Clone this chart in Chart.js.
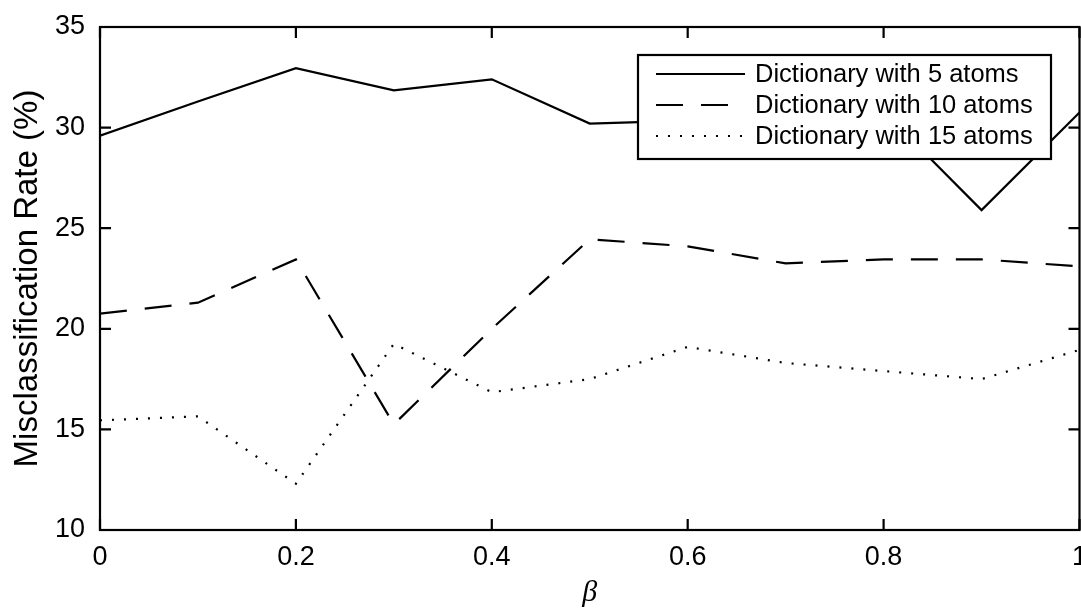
<!DOCTYPE html>
<html>
<head>
<meta charset="utf-8">
<script src="https://cdn.jsdelivr.net/npm/chart.js@4.4.1/dist/chart.umd.min.js"></script>
<style>
  html, body { margin: 0; padding: 0; background: #fff; }
  #wrap { width: 1081px; height: 609px; }
</style>
</head>
<body>
<div id="wrap"><canvas id="myChart" width="1081" height="609"></canvas></div>
<script>
// beta values on the x axis
var betas = [0, 0.1, 0.2, 0.3, 0.4, 0.5, 0.6, 0.7, 0.8, 0.9, 1.0];

// misclassification rate (%) per dictionary size
var atoms5  = [29.6, 31.3, 32.95, 31.85, 32.4, 30.2, 30.35, 30.5, 30.8, 25.9, 30.75];
var atoms10 = [20.75, 21.3, 23.45, 15.25, 20.0, 24.45, 24.1, 23.25, 23.45, 23.45, 23.1];
var atoms15 = [15.45, 15.65, 12.3, 19.25, 16.85, 17.5, 19.1, 18.3, 17.9, 17.5, 18.95];

var seriesNames = ['Dictionary with 5 atoms', 'Dictionary with 10 atoms', 'Dictionary with 15 atoms'];
var xTicks = [0, 0.2, 0.4, 0.6, 0.8, 1];
var yTicks = [10, 15, 20, 25, 30, 35];

var FONT = 'Liberation Sans, Arial, Helvetica, sans-serif';

function pairs(ys) {
    return betas.map(function (b, i) { return {x: b, y: ys[i]}; });
}

// box around the plot, ticks pointing inward on all four sides
var frame = {
    id: 'frame',
    afterDatasetsDraw: function (chart) {
        var ctx = chart.ctx, a = chart.chartArea;
        var xs = chart.scales.x, ys = chart.scales.y;
        var len = 11;
        ctx.save();
        ctx.strokeStyle = '#000';
        ctx.lineWidth = 2.2;
        ctx.strokeRect(a.left, a.top, a.right - a.left, a.bottom - a.top);
        ctx.beginPath();
        xTicks.forEach(function (v) {
            var px = xs.getPixelForValue(v);
            ctx.moveTo(px, a.bottom); ctx.lineTo(px, a.bottom - len);
            ctx.moveTo(px, a.top); ctx.lineTo(px, a.top + len);
        });
        yTicks.forEach(function (v) {
            var py = ys.getPixelForValue(v);
            ctx.moveTo(a.left, py); ctx.lineTo(a.left + len, py);
            ctx.moveTo(a.right, py); ctx.lineTo(a.right - len, py);
        });
        ctx.stroke();
        ctx.restore();
    }
};

// legend box in the upper right, with line samples
var boxLegend = {
    id: 'boxLegend',
    afterDraw: function (chart) {
        var ctx = chart.ctx;
        var x0 = 638, y0 = 55, w = 413, h = 104;
        ctx.save();
        ctx.fillStyle = '#fff';
        ctx.fillRect(x0, y0, w, h);
        ctx.strokeStyle = '#000';
        ctx.lineWidth = 2.2;
        ctx.strokeRect(x0, y0, w, h);
        ctx.font = '25.5px ' + FONT;
        ctx.textBaseline = 'middle';
        ctx.fillStyle = '#000';
        chart.data.datasets.forEach(function (ds, i) {
            var y = 74 + i * 31;
            ctx.beginPath();
            ctx.setLineDash(ds.borderDash || []);
            ctx.lineWidth = ds.borderWidth;
            ctx.moveTo(656, y);
            ctx.lineTo(745, y);
            ctx.stroke();
            ctx.setLineDash([]);
            ctx.fillText(ds.label, 755, y + 1);
        });
        ctx.restore();
    }
};

// italic beta under the x axis
var betaLabel = {
    id: 'betaLabel',
    afterDraw: function (chart) {
        var ctx = chart.ctx, xs = chart.scales.x;
        ctx.save();
        ctx.font = 'italic 30px "Liberation Serif", "DejaVu Serif", serif';
        ctx.textAlign = 'center';
        ctx.textBaseline = 'middle';
        ctx.fillStyle = '#000';
        ctx.fillText('\u03B2', (xs.left + xs.right) / 2, 593);
        ctx.restore();
    }
};

var ctx = document.getElementById('myChart').getContext('2d');
var chart = new Chart(ctx, {
    type: 'line',
    data: {
        datasets: [{
            label: seriesNames[0],
            data: pairs(atoms5),
            borderColor: '#000',
            borderWidth: 2.2,
            pointRadius: 0,
            fill: false
        }, {
            label: seriesNames[1],
            data: pairs(atoms10),
            borderColor: '#000',
            borderWidth: 2.2,
            borderDash: [27, 18],
            pointRadius: 0,
            fill: false
        }, {
            label: seriesNames[2],
            data: pairs(atoms15),
            borderColor: '#000',
            borderWidth: 2.2,
            borderDash: [2, 10],
            pointRadius: 0,
            fill: false
        }]
    },
    options: {
        responsive: false,
        animation: false,
        layout: { padding: { top: 27, right: 1.5, left: 0, bottom: 0 } },
        plugins: { legend: { display: false }, tooltip: { enabled: false } },
        scales: {
            x: {
                type: 'linear',
                min: 0, max: 1,
                afterBuildTicks: function (s) { s.ticks = xTicks.map(function (v) { return {value: v}; }); },
                afterFit: function (s) {
                    s.height = 79;
                    s.paddingLeft = 0;
                    s.paddingRight = 0;
                },
                grid: { display: false, drawTicks: false },
                border: { display: false },
                ticks: {
                    color: '#000',
                    padding: 11,
                    maxRotation: 0,
                    font: { family: FONT, size: 27 },
                    callback: function (v) { return String(v); }
                }
            },
            y: {
                type: 'linear',
                min: 10, max: 35,
                afterBuildTicks: function (s) { s.ticks = yTicks.map(function (v) { return {value: v}; }); },
                afterFit: function (s) {
                    s.width = 100;
                    s.paddingTop = 0;
                    s.paddingBottom = 0;
                },
                grid: { display: false, drawTicks: false },
                border: { display: false },
                title: {
                    display: true,
                    text: 'Misclassification Rate (%)',
                    color: '#000',
                    font: { family: FONT, size: 33 },
                    padding: { top: 8, bottom: 0 }
                },
                ticks: {
                    color: '#000',
                    padding: 15,
                    font: { family: FONT, size: 27 }
                }
            }
        }
    },
    plugins: [frame, boxLegend, betaLabel]
});
</script>
</body>
</html>
